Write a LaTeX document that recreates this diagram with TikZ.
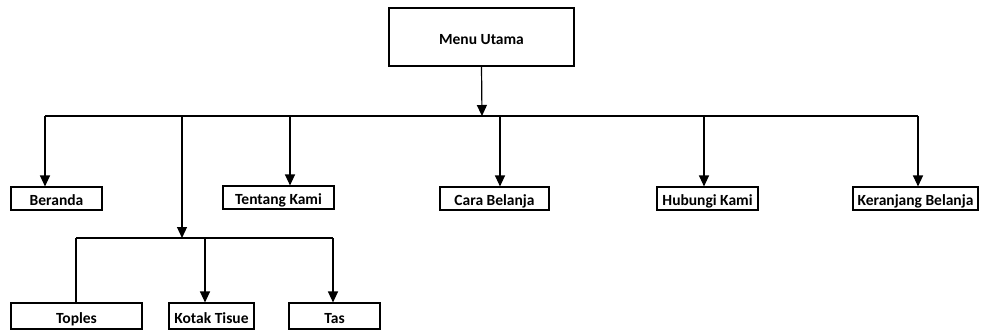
\documentclass[tikz,border=0pt]{standalone}
\usepackage{fontspec}
\setmainfont{Carlito}
\usetikzlibrary{arrows.meta}
\begin{document}
\begin{tikzpicture}[x=1pt,y=-1pt,
  box/.style={draw, line width=1.1pt, inner sep=0pt, text depth=0pt,
    font=\fontsize{15.5}{18}\selectfont\bfseries},
  toprow/.style={box, minimum height=23pt, text height=13.5pt},
  subrow/.style={box, minimum height=26pt, text height=15pt},
  wire/.style={line width=1.2pt},
  arr/.style={wire, -{Triangle[length=11pt,width=10pt]}}]
\useasboundingbox (0,0) rectangle (982,331);

% root
\node[box, minimum width=185pt, minimum height=58pt, text height=14.5pt] (menu) at (481.5,37) {Menu Utama};

% first level
\node[toprow, minimum width=91pt]  (beranda)   at (56.5,198.5)  {Beranda};
\node[toprow, minimum width=111pt] (tentang)   at (278.5,197.5) {Tentang Kami};
\node[toprow, minimum width=109pt] (cara)      at (494.5,198.5) {Cara Belanja};
\node[toprow, minimum width=101pt] (hubungi)   at (707.5,198.5) {Hubungi Kami};
\node[toprow, minimum width=125pt] (keranjang) at (915.5,198.5) {Keranjang Belanja};

% product categories
\node[subrow, minimum width=131pt] (toples) at (76.5,316)  {Toples};
\node[subrow, minimum width=85pt]  (kotak)  at (211.5,316) {Kotak Tisue};
\node[subrow, minimum width=91pt]  (tas)    at (334.5,316) {Tas};

% main bus
\coordinate (bus)   at (482,116);
\coordinate (busL)  at (45,116);
\coordinate (busT)  at (290,116);
\coordinate (busC)  at (500,116);
\coordinate (busH)  at (704,116);
\coordinate (busR)  at (918,116);
\coordinate (busP)  at (182,116);

\draw[arr] (menu.south) -- (bus);
\draw[wire] (busL) -- (busR);
\draw[arr] (busL) -- (busL |- beranda.north);
\draw[arr] (busT) -- (busT |- tentang.north);
\draw[arr] (busC) -- (busC |- cara.north);
\draw[arr] (busH) -- (busH |- hubungi.north);
\draw[arr] (busR) -- (busR |- keranjang.north);

% sub bus for the product pages
\coordinate (sub)  at (182,238);
\coordinate (subL) at (76,238);
\coordinate (subK) at (205,238);
\coordinate (subR) at (333,238);

\draw[arr] (busP) -- (sub);
\draw[wire] (subL) -- (subR);
\draw[wire] (subL) -- (subL |- toples.north);
\draw[arr] (subK) -- (subK |- kotak.north);
\draw[arr] (subR) -- (subR |- tas.north);
\end{tikzpicture}
\end{document}
